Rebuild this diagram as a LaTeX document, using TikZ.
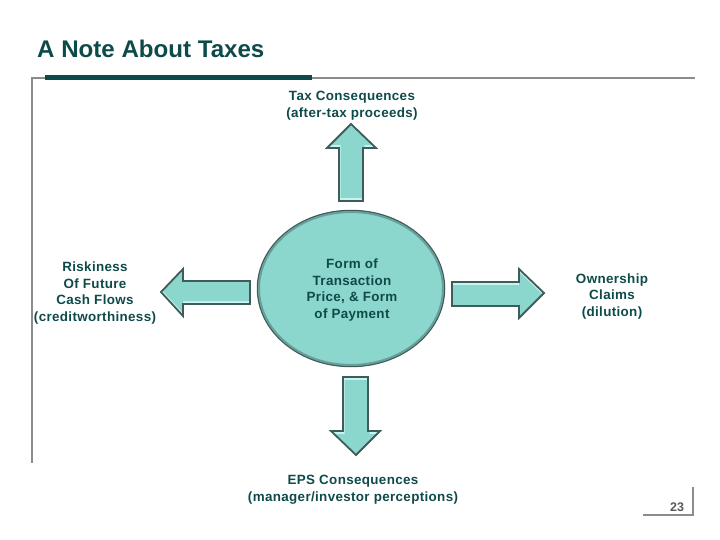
\documentclass[tikz,border=0pt]{standalone}
\usepackage{fontspec}
\setmainfont{Liberation Sans}
\usetikzlibrary{shapes.geometric}
\definecolor{darkteal}{HTML}{0F4A4A}
\definecolor{bodyteal}{HTML}{8BD6CD}
\definecolor{lightteal}{HTML}{C8F3EE}
\definecolor{edgeteal}{HTML}{3F5C5B}
\definecolor{framegray}{HTML}{8C8C8C}
\tikzset{
  caption/.style={align=center,text=darkteal,inner sep=0pt,font=\fontsize{13.4}{16.6}\selectfont\bfseries\addfontfeatures{LetterSpace=2.6}},
  arrowedge/.style={draw=edgeteal,line width=1.8pt,line join=miter},
  frameline/.style={draw=framegray,line width=1.8pt},
}
\newcommand{\bevelarrow}[2]{
\begin{scope}
\clip #1;
\fill[lightteal] #1;
\fill[bodyteal,shift={#2}] #1;
\end{scope}
\draw[arrowedge] #1;
}
\begin{document}
\begin{tikzpicture}[x=1pt,y=-1pt]
\useasboundingbox (0,0) rectangle (720,540);
\draw[frameline] (32,463) -- (32,78) -- (695,78);
\fill[darkteal] (45,75) rectangle (312,80);
\node (title) [anchor=base west,inner sep=0pt,text=darkteal,font=\fontsize{24.1}{26}\selectfont\bfseries] at (37,58) {A Note About Taxes};
\bevelarrow{(351,124) -- (376,148) -- (363,148) -- (363,201) -- (339,201) -- (339,148) -- (327,148) -- cycle}{(1.5,-3)}
\bevelarrow{(161,292) -- (183,269) -- (183,281) -- (250,281) -- (250,304) -- (183,304) -- (183,316) -- cycle}{(0,-3)}
\bevelarrow{(544,293) -- (519,269) -- (519,282) -- (452,282) -- (452,306) -- (519,306) -- (519,318) -- cycle}{(0,3)}
\bevelarrow{(356,455) -- (380,431) -- (368,431) -- (368,377) -- (343,377) -- (343,431) -- (331,431) -- cycle}{(1.5,3)}
\node (formcircle) [ellipse,draw=edgeteal,line width=1.5pt,fill=bodyteal,minimum width=187pt,minimum height=156pt,inner sep=0pt] at (351,288.5) {};
\node (formring) [ellipse,draw=bodyteal!55!edgeteal,line width=2pt,minimum width=184pt,minimum height=153pt,inner sep=0pt] at (351,288.5) {};
\node (form) [caption] at (352,290) {Form of\\Transaction\\Price, \& Form\\of Payment};
\node (tax) [caption] at (352,106) {Tax Consequences\\(after-tax proceeds)};
\node (risk) [caption] at (95,293) {Riskiness\\Of Future\\Cash Flows\\(creditworthiness)};
\node (owner) [caption] at (612,296.5) {Ownership\\Claims\\(dilution)};
\node (eps) [caption] at (353,490) {EPS Consequences\\(manager/investor perceptions)};
\draw[draw=framegray,line width=1.2pt] (643,515) -- (693,515) -- (693,487);
\node (page) [inner sep=0pt,text=black!65,font=\fontsize{12.5}{14}\selectfont\bfseries] at (677,507) {23};
\end{tikzpicture}
\end{document}
